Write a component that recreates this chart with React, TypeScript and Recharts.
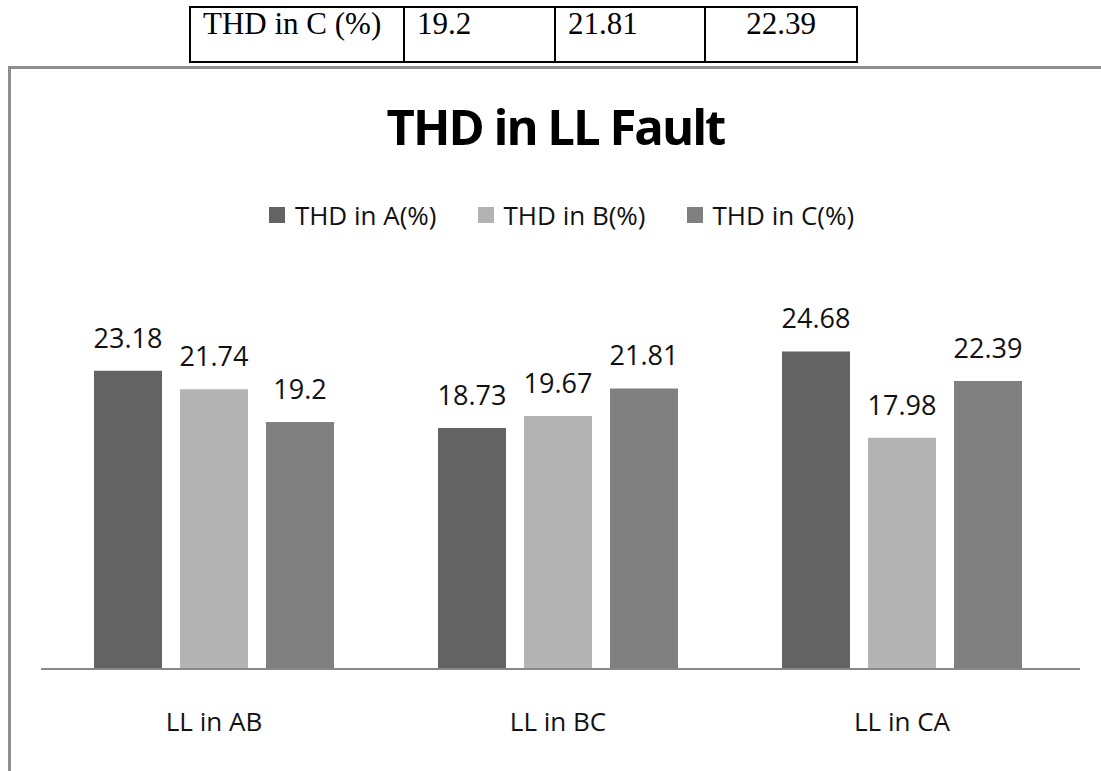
import React from "react";
import { BarChart, Bar, XAxis, YAxis, LabelList, Legend } from "recharts";

// values
const categories = ["LL in AB", "LL in BC", "LL in CA"];
const thdA = [23.18, 18.73, 24.68];
const thdB = [21.74, 19.67, 17.98];
const thdC = [19.2, 21.81, 22.39];
const seriesNames = ["THD in A(%)", "THD in B(%)", "THD in C(%)"];
const seriesColors = ["#636363", "#b3b3b3", "#808080"];
const tableRow = ["THD in C (%)", "19.2", "21.81", "22.39"];
const tableWidths = [214, 153, 152, 154];

const data = categories.map((name, i) => ({
  name,
  a: thdA[i],
  b: thdB[i],
  c: thdC[i],
}));

const FONT = "'Open Sans', 'Noto Sans', sans-serif";

function TopTable() {
  return (
    <div
      style={{
        position: "absolute",
        left: 189,
        top: 6,
        display: "flex",
        border: "2px solid #000",
        height: 53,
        fontFamily: "'Liberation Serif', 'Times New Roman', serif",
        fontSize: 31,
        color: "#000",
      }}
    >
      {tableRow.map((txt, i) => (
        <div
          key={i}
          style={{
            width: tableWidths[i] - 2,
            borderLeft: i === 0 ? "none" : "2px solid #000",
            paddingLeft: i === 3 ? 0 : 12,
            textAlign: i === 3 ? "center" : "left",
            lineHeight: "31px",
            boxSizing: "border-box",
            whiteSpace: "nowrap",
          }}
        >
          {txt}
        </div>
      ))}
    </div>
  );
}

function LegendContent(props: any) {
  const items = props.payload || [];
  return (
    <div
      style={{
        display: "flex",
        justifyContent: "center",
        alignItems: "center",
        fontFamily: FONT,
        fontSize: 26,
        color: "#111",
        paddingLeft: 22,
      }}
    >
      {items.map((it: any, i: number) => (
        <div
          key={i}
          style={{
            display: "flex",
            alignItems: "center",
            marginRight: i < items.length - 1 ? 41 : 0,
          }}
        >
          <span
            style={{
              display: "inline-block",
              width: 16,
              height: 16,
              background: it.color,
              marginRight: 10,
            }}
          />
          <span>{it.value}</span>
        </div>
      ))}
    </div>
  );
}

export default function App() {
  return (
    <div
      style={{
        position: "fixed",
        left: 0,
        top: 0,
        width: 1101,
        height: 771,
        overflow: "hidden",
        background: "#fff",
      }}
    >
      <TopTable />
      <div
        style={{
          position: "absolute",
          left: 8,
          top: 66,
          width: 1200,
          height: 800,
          border: "3px solid #8e8e8e",
          boxSizing: "border-box",
        }}
      />
      <div
        style={{
          position: "absolute",
          left: 0,
          top: 93,
          width: 1101,
          textAlign: "center",
          fontFamily: FONT,
          fontWeight: 700,
          fontSize: 49,
          letterSpacing: -2,
          color: "#000",
          paddingLeft: 10,
          boxSizing: "border-box",
        }}
      >
        THD in LL Fault
      </div>
      <div style={{ position: "absolute", left: 0, top: 0 }}>
        <BarChart
          width={1101}
          height={771}
          data={data}
          margin={{ top: 283, right: 21, bottom: 42, left: 41 }}
          barCategoryGap={52}
          barGap={18}
        >
          <XAxis
            dataKey="name"
            height={60}
            padding={{ left: 1, right: 6 }}
            axisLine={{ stroke: "#898989", strokeWidth: 2 }}
            tickLine={false}
            tickSize={0}
            tickMargin={44}
            tick={{ fontSize: 26, fill: "#111", fontFamily: FONT }}
          />
          <YAxis hide domain={[0, 30]} />
          <Legend
            layout="horizontal"
            verticalAlign="middle"
            content={<LegendContent />}
            wrapperStyle={{ top: 197, left: 0, width: 1101 }}
          />
          <Bar dataKey="a" name={seriesNames[0]} fill={seriesColors[0]} isAnimationActive={false}>
            <LabelList dataKey="a" position="top" offset={23} fill="#111" fontSize={27} fontFamily={FONT} />
          </Bar>
          <Bar dataKey="b" name={seriesNames[1]} fill={seriesColors[1]} isAnimationActive={false}>
            <LabelList dataKey="b" position="top" offset={23} fill="#111" fontSize={27} fontFamily={FONT} />
          </Bar>
          <Bar dataKey="c" name={seriesNames[2]} fill={seriesColors[2]} isAnimationActive={false}>
            <LabelList dataKey="c" position="top" offset={23} fill="#111" fontSize={27} fontFamily={FONT} />
          </Bar>
        </BarChart>
      </div>
    </div>
  );
}
